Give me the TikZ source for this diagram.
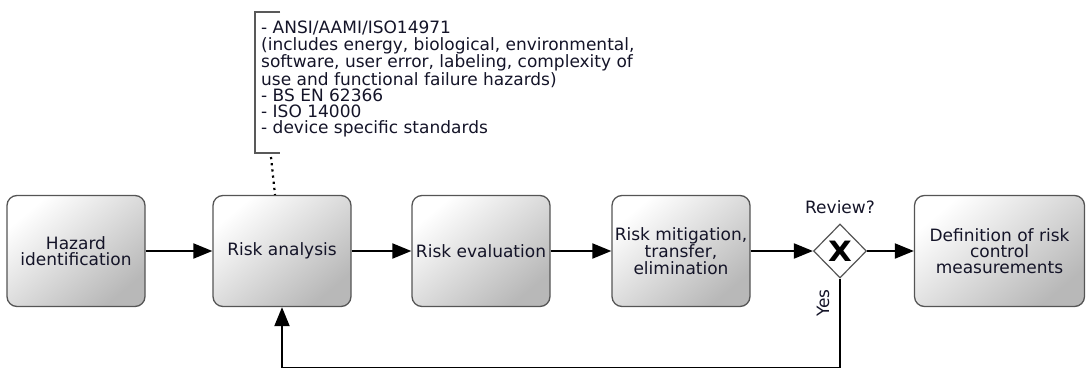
\documentclass[tikz,border=0pt]{standalone}
\usepackage{fontspec}
\setmainfont{DejaVu Sans}
\usetikzlibrary{arrows.meta,shapes.geometric,calc}
\definecolor{txt}{RGB}{20,20,40}
\definecolor{edge}{RGB}{85,85,85}
\begin{document}
\begin{tikzpicture}[x=1pt,y=-1pt,
  lbl/.style={font=\fontsize{17}{16.3}\selectfont, text=txt},
  task/.style={lbl, draw=edge, line width=1.3pt, rounded corners=10pt,
    minimum width=138pt, minimum height=111pt, align=center, inner sep=1pt,
    top color=white, bottom color=black!28, shading angle=40},
  gate/.style={diamond, draw=edge, line width=1.2pt, fill=white,
    minimum width=53pt, minimum height=54pt, inner sep=0pt},
  flow/.style={line width=2pt, -{Triangle[length=19pt,width=15pt]}},
  bracket/.style={draw=black!65, line width=1.4pt},
  assoc/.style={line width=2.2pt, dash pattern=on 2.2pt off 4pt},
]
\useasboundingbox (0,0) rectangle (1086,367);

% process steps
\node[task] (haz) at (76,251) {Hazard\\identification};
\node[task] (ra)  at (282,251) {Risk analysis};
\node[task] (re)  at (481,251) {Risk evaluation};
\node[task] (rm)  at (681,251) {Risk mitigation,\\transfer,\\elimination};
\node[task, minimum width=170pt] (def) at (999.5,251) {Definition of risk\\control\\measurements};

% exclusive gateway
\node[gate] (gw) at (840,251) {};
\node[font=\bfseries\fontsize{28}{28}\selectfont, text=black, xscale=1.1] (gx) at (gw.center) {X};
\node[lbl] (rev) at (840,207) {Review?};
\node[lbl, rotate=90] (yes) at (823,303) {Yes};

% sequence flows
\draw[flow] (haz) -- (ra);
\draw[flow] (ra) -- (re);
\draw[flow] (re) -- (rm);
\draw[flow] (rm) -- (gw);
\draw[flow] (gw) -- (def);
\coordinate (loop) at (840,367.6);
\draw[flow] (gw.south) -- (loop) -| (ra.south);

% text annotation with its association
\node[lbl, anchor=north west, align=left, inner sep=0pt] (ann) at (261,21)
  {- ANSI/AAMI/ISO14971\\
   (includes energy, biological, environmental,\\
   software, user error, labeling, complexity of\\
   use and functional failure hazards)\\
   - BS EN 62366\\
   - ISO 14000\\
   - device specific standards};
\coordinate (bt) at (255,12);
\coordinate (bb) at (255,153);
\draw[bracket] ($(bt)+(25,0)$) -- (bt) -- (bb) -- ($(bb)+(25,0)$);
\coordinate (abot) at (271,157);
\draw[assoc] (abot) -- ($(ra.north)+(-7,0)$);
\end{tikzpicture}
\end{document}
